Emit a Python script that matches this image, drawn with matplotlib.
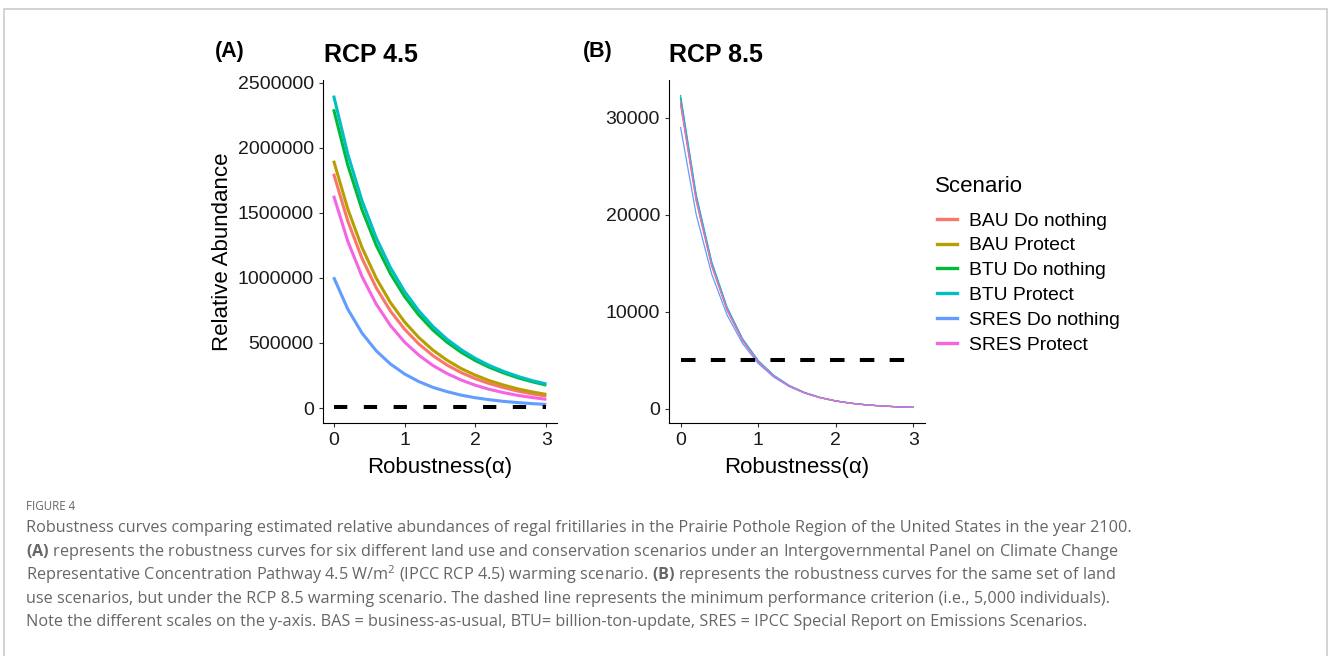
import matplotlib
matplotlib.use('Agg')
import matplotlib.pyplot as plt
from matplotlib.lines import Line2D
from matplotlib.patches import Rectangle

# robustness (alpha) grid
alpha = [0.0, 0.2, 0.4, 0.6, 0.8, 1.0, 1.2, 1.4, 1.6, 1.8, 2.0, 2.2, 2.4, 2.6, 2.8, 3.0]

scenarios = ['BAU Do nothing', 'BAU Protect', 'BTU Do nothing', 'BTU Protect',
             'SRES Do nothing', 'SRES Protect']
colors = ['#F8766D', '#B79F00', '#00BA38', '#00BFC4', '#619CFF', '#F564E3']

# RCP 4.5 relative abundance
bau_dn_45 = [1800000, 1436000, 1150000, 924000, 746000, 606000, 493000, 403000, 330000, 272000, 225000, 187000, 156000, 130000, 109000, 92000]
bau_pr_45 = [1900000, 1528000, 1233000, 998000, 811000, 662000, 542000, 445000, 367000, 303000, 252000, 210000, 176000, 147000, 124000, 105000]
btu_dn_45 = [2295000, 1865000, 1524000, 1251000, 1033000, 857000, 715000, 599000, 505000, 428000, 364000, 312000, 269000, 232000, 202000, 176000]
btu_pr_45 = [2400000, 1950000, 1593000, 1308000, 1080000, 896000, 748000, 627000, 528000, 448000, 381000, 326000, 281000, 243000, 211000, 185000]
sres_dn_45 = [1005000, 759000, 576000, 440000, 339000, 262000, 204000, 159000, 126000, 99000, 79000, 64000, 51000, 42000, 34000, 28000]
sres_pr_45 = [1631000, 1281000, 1010000, 799000, 635000, 507000, 407000, 327000, 265000, 215000, 175000, 143000, 118000, 97000, 81000, 67000]

# RCP 8.5 relative abundance
bau_dn_85 = [31300, 21431, 14708, 10119, 6977, 4823, 3343, 2322, 1618, 1130, 789, 553, 389, 275, 194, 137]
bau_pr_85 = [31500, 21568, 14802, 10184, 7021, 4854, 3364, 2337, 1629, 1137, 794, 557, 392, 276, 195, 138]
btu_dn_85 = [32000, 21910, 15037, 10346, 7133, 4931, 3418, 2374, 1654, 1155, 806, 566, 398, 281, 198, 140]
btu_pr_85 = [32300, 22116, 15178, 10443, 7200, 4977, 3450, 2397, 1670, 1166, 814, 571, 402, 283, 200, 141]
sres_dn_85 = [29000, 20050, 13891, 9643, 6708, 4675, 3265, 2285, 1601, 1125, 792, 560, 394, 280, 199, 141]
sres_pr_85 = [31600, 21637, 14849, 10216, 7044, 4870, 3375, 2345, 1634, 1141, 796, 559, 393, 277, 196, 138]

threshold = 5000  # minimum performance criterion
threshold_x = [0, 3]

xticks = [0, 1, 2, 3]
yticks_45 = [0, 500000, 1000000, 1500000, 2000000, 2500000]
yticks_85 = [0, 10000, 20000, 30000]

caption_head = 'FIGURE 4'
caption_lines = [
    'Robustness curves comparing estimated relative abundances of regal fritillaries in the Prairie Pothole Region of the United States in the year 2100.',
    r'$\mathbf{(A)}$ represents the robustness curves for six different land use and conservation scenarios under an Intergovernmental Panel on Climate Change',
    r'Representative Concentration Pathway 4.5 W/m$^2$ (IPCC RCP 4.5) warming scenario. $\mathbf{(B)}$ represents the robustness curves for the same set of land',
    'use scenarios, but under the RCP 8.5 warming scenario. The dashed line represents the minimum performance criterion (i.e., 5,000 individuals).',
    'Note the different scales on the y-axis. BAS = business-as-usual, BTU= billion-ton-update, SRES = IPCC Special Report on Emissions Scenarios.',
]

plt.rcParams['font.family'] = ['Liberation Sans', 'DejaVu Sans']
plt.rcParams['mathtext.fontset'] = 'custom'
plt.rcParams['mathtext.rm'] = 'Open Sans'
plt.rcParams['mathtext.bf'] = 'Open Sans:bold'

W, H = 1328, 656
fig = plt.figure(figsize=(W / 100, H / 100), dpi=100)


def fx(px):
    return px / W


def fy(py):
    return 1 - py / H


def style_axis(ax):
    for s in ['top', 'right']:
        ax.spines[s].set_visible(False)
    for s in ['left', 'bottom']:
        ax.spines[s].set_linewidth(0.8)
        ax.spines[s].set_color('black')
    ax.tick_params(axis='both', length=3, width=0.8, color='#333333',
                   labelsize=14, labelcolor='#1a1a1a', pad=3.5)
    ax.set_xticks(xticks)
    ax.set_xticklabels([str(t) for t in xticks])


ax_a = fig.add_axes([fx(323), fy(423), (557 - 323) / W, (423 - 80) / H])
ax_b = fig.add_axes([fx(669), fy(423), (925 - 669) / W, (423 - 80) / H])

series_45 = [bau_dn_45, bau_pr_45, btu_dn_45, btu_pr_45, sres_dn_45, sres_pr_45]
series_85 = [bau_dn_85, bau_pr_85, btu_dn_85, btu_pr_85, sres_dn_85, sres_pr_85]

for vals, c in zip(series_45, colors):
    ax_a.plot(alpha, vals, color=c, lw=2.2, solid_capstyle='butt')
ax_a.plot(threshold_x, [threshold, threshold], color='black', lw=2.9,
          linestyle=(0, (3.3, 4.1)), dash_capstyle='butt')

for vals, c in zip(series_85, colors):
    ax_b.plot(alpha, vals, color=c, lw=0.9)
ax_b.plot(threshold_x, [threshold, threshold], color='black', lw=2.9,
          linestyle=(0, (3.6, 3.8)), dash_capstyle='butt')

style_axis(ax_a)
style_axis(ax_b)
ax_a.set_yticks(yticks_45)
ax_a.set_yticklabels([str(t) for t in yticks_45])
ax_b.set_yticks(yticks_85)
ax_b.set_yticklabels([str(t) for t in yticks_85])

# axis titles
fig.text(fx(440), fy(467), 'Robustness(α)', fontsize=16, ha='center', va='center')
fig.text(fx(797), fy(467), 'Robustness(α)', fontsize=16, ha='center', va='center')
fig.text(fx(222), fy(251.5), 'Relative Abundance', fontsize=16, rotation=90,
         ha='center', va='center')

# panel titles and tags
fig.text(fx(324), fy(55), 'RCP 4.5', fontsize=18, fontweight='bold', ha='left', va='center')
fig.text(fx(669), fy(55), 'RCP 8.5', fontsize=18, fontweight='bold', ha='left', va='center')
fig.text(fx(215), fy(51), '(A)', fontsize=15.5, fontweight='bold', ha='left', va='center')
fig.text(fx(583), fy(51), '(B)', fontsize=15.5, fontweight='bold', ha='left', va='center')

# legend (title drawn on its own so the gap can match)
fig.text(fx(935), fy(187), 'Scenario', fontsize=16, ha='left', va='center')
handles = [Line2D([0], [0], color=c, lw=2.4) for c in colors]
fig.legend(handles, scenarios, loc='upper left', bbox_to_anchor=(fx(937), fy(212)),
           frameon=False, fontsize=13.9,
           handlelength=1.05, handletextpad=0.62, labelspacing=0.38,
           borderpad=0, borderaxespad=0)

# outer frame
fig.patches.append(Rectangle((fx(4), -0.05), (1327 - 4) / W, fy(9) + 0.05,
                             transform=fig.transFigure, fill=False,
                             edgecolor='#cccccc', lw=1.2))

# caption
cap_color = '#666666'
fig.text(fx(26), fy(510.5), caption_head, fontsize=8.3, family='Open Sans',
         color=cap_color, ha='left', va='baseline')

renderer = fig.canvas.get_renderer()
probe = fig.text(0, 0, caption_lines[0], fontsize=10, family='Open Sans')
cap_fs = 10 * 1107 / probe.get_window_extent(renderer).width
probe.remove()

baselines = [532.5, 556, 579.5, 603, 626.5]
for line, yb in zip(caption_lines, baselines):
    fig.text(fx(26), fy(yb), line, fontsize=cap_fs, family='Open Sans',
             color=cap_color, ha='left', va='baseline')

fig.savefig('out.png', dpi=100)
